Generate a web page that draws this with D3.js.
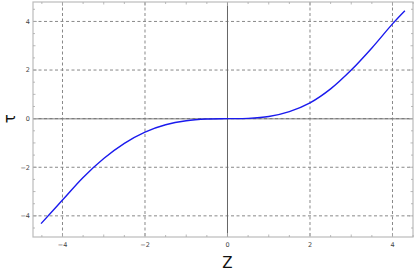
<!DOCTYPE html>
<html>
<head>
<meta charset="utf-8">
<script src="https://cdn.jsdelivr.net/npm/d3@7/dist/d3.min.js"></script>
<style>
body { margin: 0; background: #fff; }
svg { display: block; }
</style>
</head>
<body>
<script>
// values
var zVals   = [-4.52, -4.0, -3.5, -3.0, -2.5, -2.0, -1.5, -1.0, -0.5, 0, 0.5, 1.0, 1.5, 2.0, 2.5, 3.0, 3.5, 4.0, 4.3];
var tauVals = [-4.32, -3.35, -2.42, -1.64, -1.015, -0.55, -0.25, -0.085, -0.015, 0, 0.012, 0.088, 0.29, 0.65, 1.225, 2.0, 2.91, 3.9, 4.44];
var xTicks = [-4, -2, 0, 2, 4];
var yTicks = [-4, -2, 0, 2, 4];
var gridX = [-4, -2, 2, 4];
var gridY = [-4, -2, 2, 4];

var w = 415, h = 272;
var pL = 33, pR = 413, pT = 2, pB = 237;

var x = d3.scaleLinear().domain([-4.715, 4.497]).range([pL, pR]);
var y = d3.scaleLinear().domain([-4.87, 4.8]).range([pB, pT]);

var svg = d3.select("body").append("svg").attr("width", w).attr("height", h);

// dashed grid
svg.selectAll(".gx").data(gridX).enter().append("line")
	.attr("x1", d => x(d)).attr("x2", d => x(d))
	.attr("y1", pT).attr("y2", pB)
	.attr("stroke", "#888").attr("stroke-width", 1).attr("stroke-dasharray", "3,2.5");
svg.selectAll(".gy").data(gridY).enter().append("line")
	.attr("x1", pL).attr("x2", pR)
	.attr("y1", d => y(d)).attr("y2", d => y(d))
	.attr("stroke", "#888").attr("stroke-width", 1).attr("stroke-dasharray", "3,2.5");

// zero lines
svg.append("line").attr("x1", pL).attr("x2", pR).attr("y1", y(0)).attr("y2", y(0))
	.attr("stroke", "#aaa").attr("stroke-width", 1.5);
svg.append("line").attr("x1", pL).attr("x2", pR).attr("y1", y(0)).attr("y2", y(0))
	.attr("stroke", "#777").attr("stroke-width", 1).attr("stroke-dasharray", "3,2.5");
svg.append("line").attr("x1", x(0)).attr("x2", x(0)).attr("y1", pT).attr("y2", pB)
	.attr("stroke", "#666").attr("stroke-width", 1);

// frame
svg.append("rect").attr("x", pL).attr("y", pT)
	.attr("width", pR - pL).attr("height", pB - pT)
	.attr("fill", "none").attr("stroke", "#bbb").attr("stroke-width", 1.2);

// ticks on all four sides, inward
var minorX = d3.range(-4.5, 4.51, 0.5);
var minorY = d3.range(-4.5, 4.51, 0.5);
function tickLen(d) {
	if (d % 1 !== 0) return 2;
	return Math.abs(d % 2) < 1e-6 ? 4 : 2.5;
}
var tg = svg.append("g").attr("stroke", "#aaa").attr("stroke-width", 0.8);
minorX.forEach(function(d) {
	tg.append("line").attr("x1", x(d)).attr("x2", x(d)).attr("y1", pB).attr("y2", pB - tickLen(d));
	tg.append("line").attr("x1", x(d)).attr("x2", x(d)).attr("y1", pT).attr("y2", pT + tickLen(d));
});
minorY.forEach(function(d) {
	tg.append("line").attr("y1", y(d)).attr("y2", y(d)).attr("x1", pL).attr("x2", pL + tickLen(d));
	tg.append("line").attr("y1", y(d)).attr("y2", y(d)).attr("x1", pR).attr("x2", pR - tickLen(d));
});

// tick labels
function fmt(d) { return d < 0 ? "\u2212" + Math.abs(d) : String(d); }
svg.selectAll(".xl").data(xTicks).enter().append("text")
	.attr("x", d => x(d)).attr("y", pB + 10)
	.attr("text-anchor", "middle")
	.attr("font-family", "DejaVu Sans, sans-serif").attr("font-size", 6.5)
	.attr("fill", "#444").text(fmt);
svg.selectAll(".yl").data(yTicks).enter().append("text")
	.attr("x", pL - 3).attr("y", d => y(d) + 2.3)
	.attr("text-anchor", "end")
	.attr("font-family", "DejaVu Sans, sans-serif").attr("font-size", 6.5)
	.attr("fill", "#444").text(fmt);

// axis labels
svg.append("text").attr("x", x(0)).attr("y", 268)
	.attr("text-anchor", "middle")
	.attr("font-family", "DejaVu Sans, sans-serif").attr("font-size", 15)
	.attr("fill", "#111").text("Z");
svg.append("text")
	.attr("transform", "translate(15," + y(0) + ") rotate(-90)")
	.attr("text-anchor", "middle")
	.attr("font-family", "DejaVu Sans, sans-serif").attr("font-size", 15)
	.attr("fill", "#111").text("\u03c4");

// curve
var pts = zVals.map((z, i) => [z, tauVals[i]]);
var line = d3.line().x(d => x(d[0])).y(d => y(d[1])).curve(d3.curveCatmullRom.alpha(0.5));
svg.append("path").datum(pts).attr("d", line)
	.attr("fill", "none").attr("stroke", "#1a1aee").attr("stroke-width", 1.4);
</script>
</body>
</html>
